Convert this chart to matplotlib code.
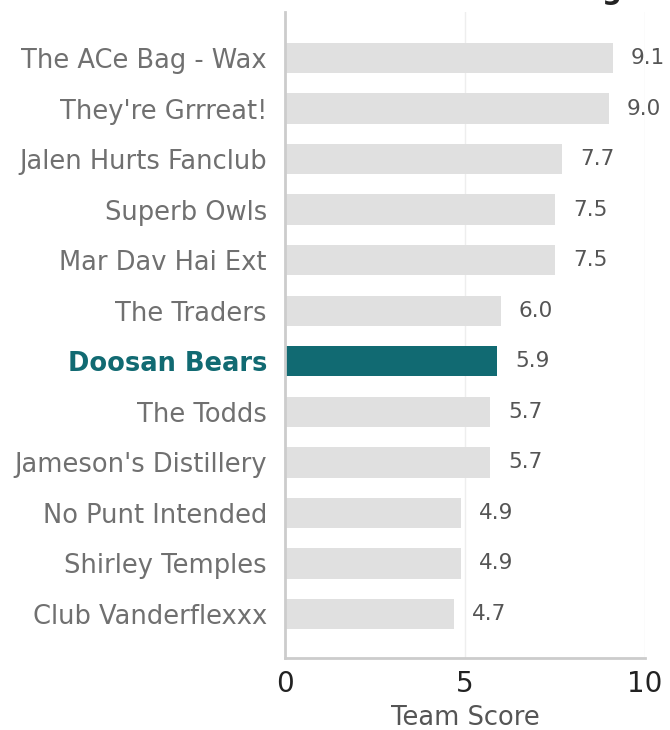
import matplotlib
matplotlib.use("Agg")
import matplotlib.pyplot as plt

# datos
teams = ["The ACe Bag - Wax", "They're Grrreat!", "Jalen Hurts Fanclub", "Superb Owls",
         "Mar Dav Hai Ext", "The Traders", "Doosan Bears", "The Todds",
         "Jameson's Distillery", "No Punt Intended", "Shirley Temples", "Club Vanderflexxx"]
scores = [9.1, 9.0, 7.7, 7.5, 7.5, 6.0, 5.9, 5.7, 5.7, 4.9, 4.9, 4.7]
highlight = "Doosan Bears"

teal = "#116a72"
gray_bar = "#e0e0e0"

fig = plt.figure(figsize=(6.7, 7.3), dpi=100)
ax = fig.add_axes([285 / 670, 1 - 658 / 730, 360 / 670, 646 / 730])

y = list(range(len(teams)))
colors = [teal if t == highlight else gray_bar for t in teams]
ax.barh(y, scores, height=0.6, color=colors, zorder=2)
ax.set_ylim(11.87, -0.91)

ax.set_xlim(0, 10)
ax.set_xticks([0, 5, 10])
ax.set_yticks(y)
ax.set_yticklabels(teams, fontsize=18.5, color="#707070")
for lbl in ax.get_yticklabels():
    if lbl.get_text() == highlight:
        lbl.set_color(teal)
        lbl.set_fontweight("bold")

ax.tick_params(axis="y", length=0, pad=13)
ax.tick_params(axis="x", length=0, pad=9, labelsize=20, labelcolor="#222222")

for yi, s in zip(y, scores):
    ax.text(s + 0.5, yi, f"{s:.1f}", va="center", ha="left", fontsize=15.5, color="#555555")

ax.grid(axis="x", color="#eeeeee", linewidth=1, zorder=0)
for side in ["top", "right"]:
    ax.spines[side].set_visible(False)
for side in ["left", "bottom"]:
    ax.spines[side].set_color("#cccccc")
    ax.spines[side].set_linewidth(2)

ax.set_xlabel("Team Score", fontsize=18.5, color="#555555", labelpad=5)

# titulo cortado arriba
fig.text(622 / 670, 731 / 730, "Power Ranking", ha="right", va="baseline",
         fontsize=20, fontweight="bold", color="#222222")

fig.savefig("out.png", dpi=100)
